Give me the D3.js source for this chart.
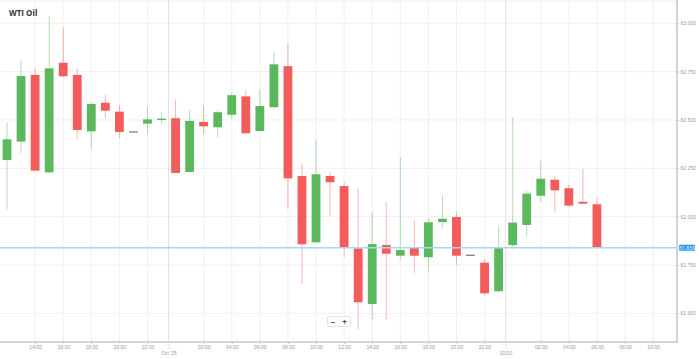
<!DOCTYPE html>
<html>
<head>
<meta charset="utf-8">
<script src="https://cdn.jsdelivr.net/npm/d3@7"></script>
<style>
  body { margin: 0; background: #fff; }
  svg { display: block; font-family: "Open Sans", sans-serif; }
  .axis text { fill: #999; font-size: 5px; }
  .axis .domain { stroke: #c8c8c8; }
  .axis .tick line { stroke: #c8c8c8; }
</style>
</head>
<body>
<div id="chart"></div>
<script>
// =====================================
// DATA (hourly candles, 30 Sep 12:00 -> 02 Oct 06:00)
// =====================================

const times = [
  "12:00","13:00","14:00","15:00","16:00","17:00","18:00","19:00","20:00","21:00","22:00","23:00",
  "00:00","01:00","02:00","03:00","04:00","05:00","06:00","07:00","08:00","09:00","10:00","11:00",
  "12:00","13:00","14:00","15:00","16:00","17:00","18:00","19:00","20:00","21:00","22:00","23:00",
  "00:00","01:00","02:00","03:00","04:00","05:00","06:00"
];

const open = [
  62.293, 62.388, 62.733, 62.229, 62.796, 62.733, 62.441, 62.589, 62.543, 62.438, 62.481, 62.500,
  62.509, 62.231, 62.490, 62.462, 62.527, 62.622, 62.443, 62.566, 62.778, 62.210, 61.867, 62.210,
  62.158, 61.836, 61.548, 61.853, 61.798, 61.839, 61.790, 61.972, 61.998, 61.800, 61.762, 61.614,
  61.853, 61.957, 62.108, 62.191, 62.147, 62.077, 62.064
];

const high = [
  62.488, 62.810, 62.767, 63.038, 62.979, 62.767, 62.589, 62.628, 62.577, 62.438, 62.569, 62.540,
  62.603, 62.552, 62.577, 62.552, 62.641, 62.659, 62.659, 62.850, 62.902, 62.276, 62.400, 62.232,
  62.176, 62.147, 62.020, 62.077, 62.307, 61.979, 61.991, 62.110, 62.020, 61.800, 61.779, 61.950,
  62.514, 62.133, 62.288, 62.212, 62.164, 62.248, 62.098
];

const low = [
  62.039, 62.328, 62.236, 62.227, 62.722, 62.400, 62.351, 62.509, 62.408, 62.438, 62.427, 62.479,
  62.224, 62.229, 62.427, 62.410, 62.505, 62.429, 62.440, 62.562, 62.039, 61.652, 61.865, 62.003,
  61.790, 61.417, 61.469, 61.469, 61.776, 61.710, 61.710, 61.940, 61.750, 61.800, 61.593, 61.612,
  61.831, 61.896, 62.077, 62.024, 62.051, 62.066, 61.838
];

const close = [
  62.400, 62.727, 62.238, 62.767, 62.726, 62.448, 62.583, 62.548, 62.438, 62.438, 62.503, 62.507,
  62.226, 62.495, 62.467, 62.540, 62.628, 62.431, 62.572, 62.788, 62.198, 61.857, 62.219, 62.178,
  61.841, 61.557, 61.858, 61.808, 61.827, 61.798, 61.971, 61.989, 61.798, 61.800, 61.603, 61.841,
  61.969, 62.119, 62.196, 62.136, 62.057, 62.067, 61.839
];

const priceTicks = [61.5, 61.75, 62.0, 62.25, 62.5, 62.75, 63.0];

const hourTickLabels = [
  "14:00","16:00","18:00","20:00","22:00","02:00","04:00","06:00","08:00","10:00",
  "12:00","14:00","16:00","18:00","20:00","22:00","02:00","04:00","06:00","08:00","10:00"
];

const dayTickLabels = ["Oct '25", "02/10"];

const data = times.map((t, i) => ({
  i, time: t, open: open[i], high: high[i], low: low[i], close: close[i]
}));

// hour offset of each tick label from the first candle
let day = 0, prevHour = parseInt(times[0]);
const hourTicks = hourTickLabels.map(lbl => {
  const h = parseInt(lbl);
  if (h < prevHour) day++;
  prevHour = h;
  return { label: lbl, pos: day * 24 + h - parseInt(times[0]) };
});
const dayTicks = dayTickLabels.map((lbl, k) => ({
  label: lbl, pos: (k + 1) * 24 - parseInt(times[0]) - 0.5
}));

// =====================================
// DIMENSIONS
// =====================================

const W = 699, H = 359;
const plotRight = 677;
const plotBottom = 342;

const svg = d3.select("#chart")
  .append("svg")
  .attr("width", W)
  .attr("height", H);

// =====================================
// SCALES
// =====================================

const x = d3.scaleLinear()
  .domain([-0.5, 47.7])
  .range([0, plotRight]);

const y = d3.scaleLinear()
  .domain([61.5, 63.0])
  .range([313.3, 23.3]);

const bodyW = 8.8;

// =====================================
// GRID
// =====================================

svg.append("line")
  .attr("x1", 0).attr("x2", plotRight)
  .attr("y1", 1).attr("y2", 1)
  .style("stroke", "#eeeeee");

svg.selectAll(".hgrid")
  .data(priceTicks)
  .enter()
  .append("line")
  .attr("x1", 0).attr("x2", plotRight)
  .attr("y1", d => y(d)).attr("y2", d => y(d))
  .style("stroke", "#f0f0f0");

svg.selectAll(".vgrid")
  .data(hourTicks)
  .enter()
  .append("line")
  .attr("x1", d => x(d.pos)).attr("x2", d => x(d.pos))
  .attr("y1", 0).attr("y2", plotBottom)
  .style("stroke", "#f0f0f0");

svg.selectAll(".dgrid")
  .data(dayTicks)
  .enter()
  .append("line")
  .attr("x1", d => x(d.pos)).attr("x2", d => x(d.pos))
  .attr("y1", 0).attr("y2", plotBottom)
  .style("stroke", "#e2e2e2");

// =====================================
// AXES
// =====================================

// Y axis (right)
const yAxis = svg.append("g")
  .attr("class", "axis")
  .attr("transform", `translate(${plotRight},0)`)
  .call(
    d3.axisRight(y)
      .tickValues(priceTicks)
      .tickSize(2)
      .tickPadding(1.5)
      .tickFormat(d3.format(".3f"))
  );
yAxis.select(".domain").remove();

svg.append("line")
  .attr("x1", plotRight).attr("x2", plotRight)
  .attr("y1", 0).attr("y2", plotBottom + 1)
  .style("stroke", "#b8b8b8")
  .style("stroke-width", 1.2);

// X axis - hours
const xAxis = svg.append("g")
  .attr("class", "axis")
  .attr("transform", `translate(0,${plotBottom})`)
  .call(
    d3.axisBottom(x)
      .tickValues(hourTicks.map(d => d.pos))
      .tickSize(2)
      .tickPadding(1.5)
      .tickFormat((d, i) => hourTicks[i].label)
  );
xAxis.select(".domain")
  .attr("d", `M0,0H${plotRight}`)
  .style("stroke-width", 1.5);

// X axis - days
const dayAxis = svg.append("g")
  .attr("class", "axis")
  .attr("transform", `translate(0,${plotBottom})`)
  .call(
    d3.axisBottom(x)
      .tickValues(dayTicks.map(d => d.pos))
      .tickSize(7)
      .tickPadding(2)
      .tickFormat((d, i) => dayTicks[i].label)
  );
dayAxis.select(".domain").remove();
dayAxis.selectAll(".tick line").style("stroke-dasharray", "1 1");

// =====================================
// TITLE
// =====================================

svg.append("text")
  .attr("x", 9)
  .attr("y", 15.5)
  .style("font-size", "8px")
  .style("font-weight", "bold")
  .style("fill", "#333")
  .text("WTI Oil");

// =====================================
// CANDLES
// =====================================

const up = "#5cb85c";
const down = "#f45b5b";
const color = d => d.close > d.open ? up : (d.close < d.open ? down : "#888");

svg.selectAll(".wick")
  .data(data)
  .enter()
  .append("line")
  .attr("class", "wick")
  .attr("x1", d => x(d.i)).attr("x2", d => x(d.i))
  .attr("y1", d => y(d.high)).attr("y2", d => y(d.low))
  .style("stroke", color)
  .style("stroke-opacity", 0.45)
  .style("stroke-width", 1);

svg.selectAll(".body")
  .data(data)
  .enter()
  .append("rect")
  .attr("class", "body")
  .attr("x", d => x(d.i) - bodyW / 2)
  .attr("width", bodyW)
  .attr("y", d => d.open === d.close ? y(d.open) - 0.7 : y(Math.max(d.open, d.close)))
  .attr("height", d => d.open === d.close ? 1.4 : Math.max(1.4, y(Math.min(d.open, d.close)) - y(Math.max(d.open, d.close))))
  .attr("fill", color);

// =====================================
// LAST PRICE
// =====================================

const last = close[close.length - 1];

svg.append("line")
  .attr("x1", 0).attr("x2", plotRight)
  .attr("y1", y(last)).attr("y2", y(last))
  .style("stroke", "#a9d6f5")
  .style("stroke-width", 1.5);

svg.append("rect")
  .attr("x", plotRight + 2)
  .attr("y", y(last) - 3)
  .attr("width", 16)
  .attr("height", 6)
  .attr("rx", 1)
  .attr("fill", "#2196f3");

svg.append("text")
  .attr("x", plotRight + 10)
  .attr("y", y(last) + 1.8)
  .attr("text-anchor", "middle")
  .style("font-size", "5px")
  .style("fill", "#fff")
  .text(d3.format(".3f")(last));

// =====================================
// ZOOM BUTTONS
// =====================================

const zoomBtn = svg.append("g");

zoomBtn.append("rect")
  .attr("x", 327.5).attr("y", 316.5)
  .attr("width", 23).attr("height", 10)
  .attr("rx", 1.5)
  .attr("fill", "#fff")
  .style("stroke", "#e4e4e4");

zoomBtn.selectAll("text")
  .data(["\u2212", "+"])
  .enter()
  .append("text")
  .attr("x", (d, i) => 333 + i * 11.5)
  .attr("y", 324.5)
  .attr("text-anchor", "middle")
  .style("font-size", "8px")
  .style("font-weight", "bold")
  .style("fill", "#444")
  .text(d => d);
</script>
</body>
</html>
